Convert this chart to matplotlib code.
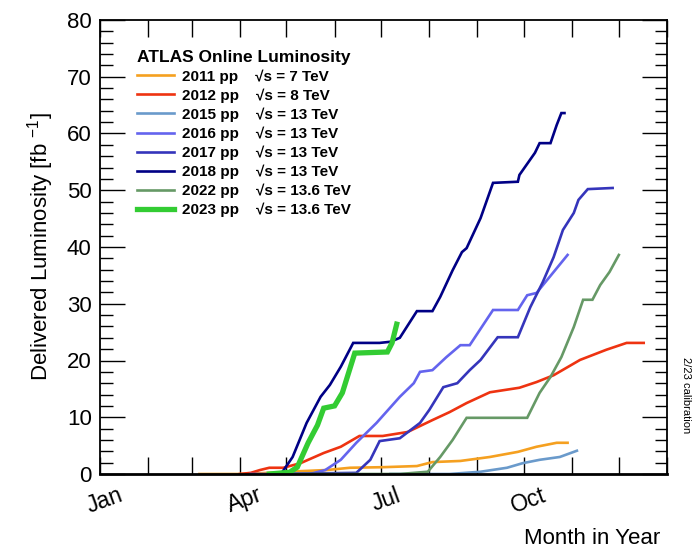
import matplotlib
matplotlib.use("Agg")
import matplotlib.pyplot as plt
from matplotlib.ticker import MultipleLocator, FixedLocator, NullFormatter

plt.rcParams['font.family'] = ['Liberation Sans', 'DejaVu Sans']
plt.rcParams['mathtext.default'] = 'regular'

# ---------------- data (day of year, cumulative delivered luminosity fb^-1) ----------------
days_2011 = [64, 90, 109, 129, 146, 161, 182, 204, 214, 232, 251, 269, 281, 294, 301]
lumi_2011 = [0, 0, 0.2, 0.5, 0.7, 1.1, 1.2, 1.4, 2.1, 2.3, 3.0, 3.9, 4.8, 5.5, 5.5]

days_2012 = [90, 97, 103, 109, 118, 129, 144, 155, 167, 182, 198, 214, 225, 236, 251, 270, 281, 292, 309, 326, 339, 350]
lumi_2012 = [0, 0.2, 0.7, 1.1, 1.1, 1.9, 3.7, 4.8, 6.7, 6.7, 7.4, 9.5, 10.9, 12.5, 14.4, 15.2, 16.2, 17.4, 20.1, 21.9, 23.1, 23.1]

days_2015 = [187, 225, 245, 262, 272, 283, 296, 307]
lumi_2015 = [0, 0, 0.4, 1.1, 1.9, 2.5, 3.0, 4.1]

days_2016 = [97, 135, 145, 155, 165, 178, 193, 202, 206, 214, 223, 232, 238, 253, 269, 275, 281, 301]
lumi_2016 = [0, 0, 0.7, 2.5, 5.5, 9.0, 13.6, 16.0, 18.0, 18.3, 20.6, 22.7, 22.7, 28.9, 28.9, 31.5, 31.9, 38.6]

days_2017 = [109, 165, 174, 180, 193, 206, 212, 221, 230, 238, 245, 256, 269, 277, 285, 292, 298, 305, 308, 314, 330]
lumi_2017 = [0, 0.2, 2.5, 5.8, 6.3, 9.0, 11.3, 15.3, 16.0, 18.3, 20.1, 24.1, 24.1, 29.4, 33.8, 38.2, 43.0, 46.0, 48.3, 50.2, 50.4]

days_2018 = [110, 117, 124, 133, 142, 148, 155, 159, 163, 180, 187, 193, 204, 214, 219, 227, 233, 236, 245, 253, 269, 270, 280, 283, 290, 294, 297, 299]
lumi_2018 = [0, 0.2, 3.0, 9.0, 13.6, 15.7, 18.9, 21.0, 23.1, 23.1, 23.3, 24.0, 28.7, 28.7, 31.2, 35.9, 39.1, 39.8, 45.1, 51.3, 51.5, 52.7, 56.6, 58.3, 58.3, 61.5, 63.6, 63.6]

days_2022 = [125, 193, 211, 219, 227, 236, 275, 283, 290, 297, 305, 311, 317, 322, 328, 334]
lumi_2022 = [0, 0, 0.4, 3.0, 6.0, 9.9, 9.9, 14.3, 17.1, 20.6, 25.9, 30.7, 30.7, 33.3, 35.6, 38.6]

days_2023 = [109, 122, 127, 134, 140, 144, 151, 156, 160, 164, 185, 188, 191]
lumi_2023 = [0, 0.3, 1.2, 5.5, 8.6, 11.6, 12.0, 14.3, 17.8, 21.3, 21.5, 23.1, 26.4]

years = ['2011', '2012', '2015', '2016', '2017', '2018', '2022', '2023']
energies = ['7', '8', '13', '13', '13', '13', '13.6', '13.6']
month_labels = ['Jan', 'Apr', 'Jul', 'Oct']
month_days = [0, 90, 181, 273]
month_starts = [0, 31, 59, 90, 120, 151, 181, 212, 243, 273, 304, 334, 365]

series = [
    (days_2011, lumi_2011, '#f5a020', 1.9),
    (days_2012, lumi_2012, '#ee3311', 1.9),
    (days_2015, lumi_2015, '#6a9acb', 1.9),
    (days_2016, lumi_2016, '#6464ee', 1.9),
    (days_2017, lumi_2017, '#3535bb', 1.9),
    (days_2018, lumi_2018, '#000085', 1.9),
    (days_2022, lumi_2022, '#669966', 1.9),
    (days_2023, lumi_2023, '#33cc33', 3.8),
]

fig = plt.figure(figsize=(6.94, 5.52), dpi=100)
ax = fig.add_axes([100/694, 78/552, 567/694, 454/552])

for (d, l, c, lw), yr, e in zip(series, years, energies):
    ax.plot(d, l, color=c, lw=lw, solid_joinstyle='miter',
            label=f'{yr} pp    \u221as = {e} TeV')

ax.set_xlim(0, 365)
ax.set_ylim(0, 80)

ax.xaxis.set_major_locator(FixedLocator(month_starts))
ax.xaxis.set_major_formatter(NullFormatter())
ax.yaxis.set_major_locator(MultipleLocator(10))
ax.yaxis.set_minor_locator(MultipleLocator(2))
ax.tick_params(axis='x', which='major', direction='in', length=12, width=1, top=True, bottom=True)
ax.tick_params(axis='y', which='major', direction='in', length=18, width=1, left=True, right=True,
               labelsize=16, pad=6)
ax.tick_params(axis='y', which='minor', direction='in', length=9, width=1, left=True, right=True)
for sp in ax.spines.values():
    sp.set_linewidth(1.3)
ax.spines['bottom'].set_linewidth(2)

for lab, d in zip(month_labels, month_days):
    ax.text(d + 3, -0.058, lab, transform=ax.get_xaxis_transform(), rotation=20,
            ha='center', va='center', fontsize=16.5)

ax.set_ylabel('Delivered Luminosity [fb $^{-1}$]', fontsize=16, labelpad=8)
fig.text(660/694, 1 - 538/552, 'Month in Year', ha='right', va='center', fontsize=16)
fig.text(686/694, 1 - 395/552, '2/23 calibration', rotation=-90, ha='center', va='center', fontsize=8)

leg = ax.legend(loc='upper left', bbox_to_anchor=(0.055, 0.948), frameon=False,
                title='ATLAS Online Luminosity', title_fontproperties={'weight': 'bold', 'size': 12.5},
                prop={'weight': 'bold', 'size': 11}, handlelength=2.4, handletextpad=0.55,
                labelspacing=0.3, borderaxespad=0)
leg._legend_box.align = 'left'

fig.savefig('out.png', dpi=100)
